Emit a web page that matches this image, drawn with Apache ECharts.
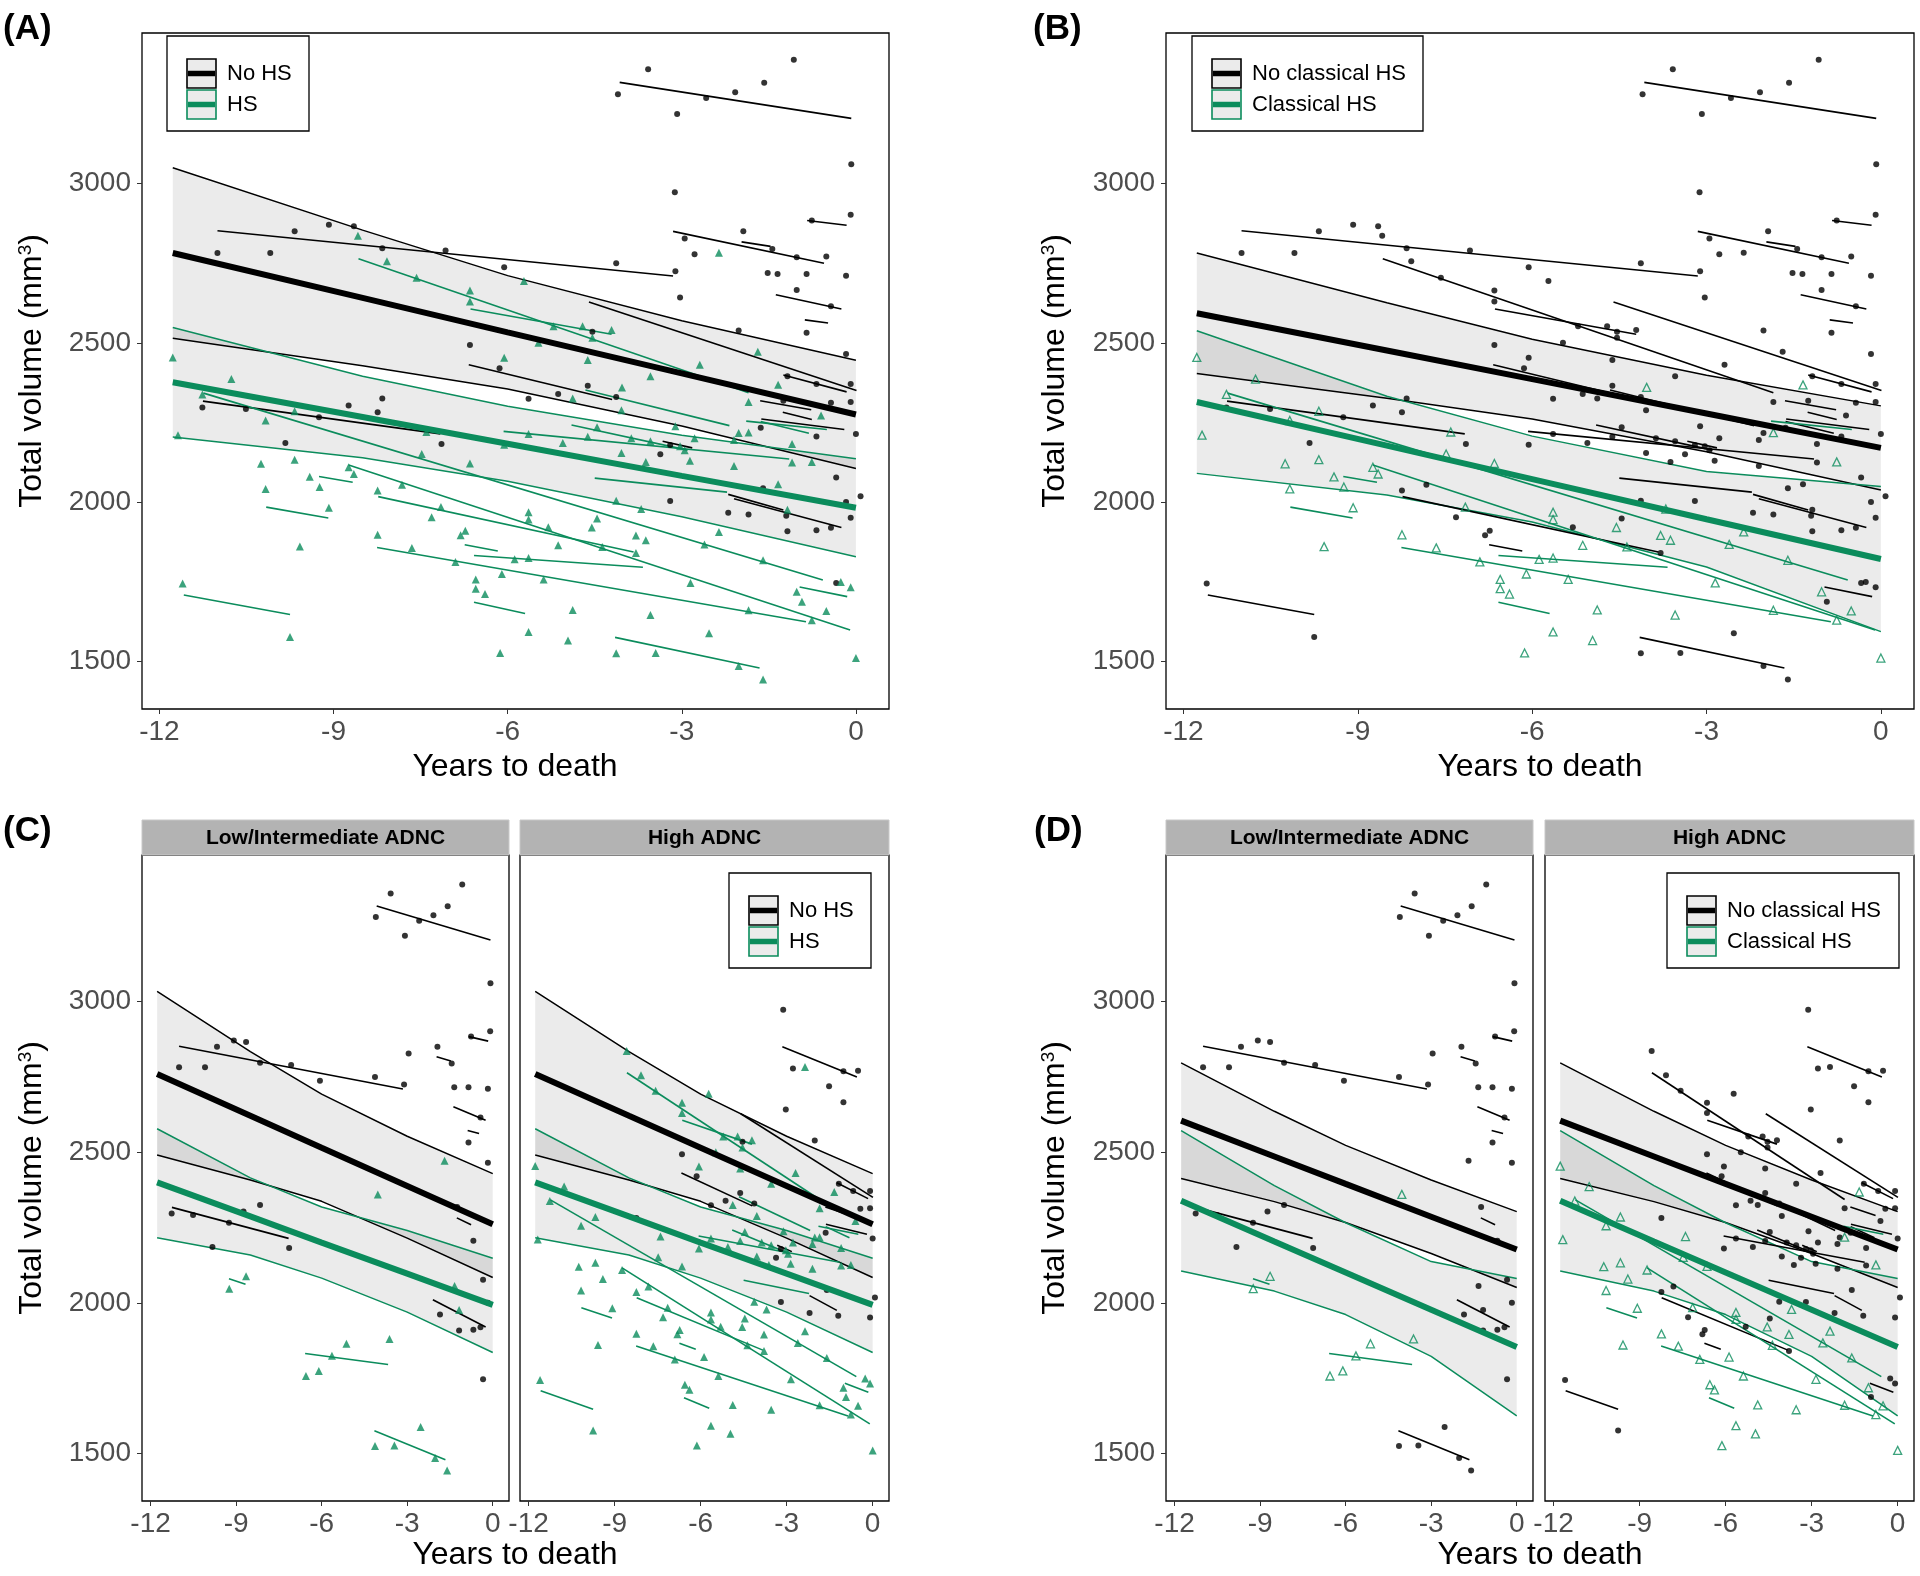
<!DOCTYPE html>
<html>
<head>
<meta charset="utf-8">
<script src="https://cdn.jsdelivr.net/npm/echarts@6/dist/echarts.min.js"></script>
<style>
  html, body { margin: 0; background: #fff; }
  #chart { width: 1920px; height: 1576px; }
</style>
</head>
<body>
<div id="chart"></div>
<script>
// ---- data ----
const xTicks = [-12, -9, -6, -3, 0]
const yTicks = [1500, 2000, 2500, 3000]

// points: [years to death, volume, high ADNC (1) or low/intermediate (0)]
const noHsPoints = [
  [-4.1, 3281, 0], [-3.58, 3359, 0], [-3.08, 3219, 0], [-2.58, 3269, 0], [-2.08, 3287, 0], [-1.58, 3317, 0],
  [-1.07, 3389, 0], [-0.08, 3061, 0], [-3.12, 2973, 1], [-0.09, 2902, 0], [-0.76, 2884, 0], [-9.67, 2850, 0],
  [-9.08, 2871, 0], [-8.65, 2866, 0], [-11.0, 2782, 0], [-10.09, 2782, 0], [-8.16, 2797, 0], [-7.07, 2790, 0],
  [-1.94, 2850, 0], [-2.95, 2828, 0], [-2.78, 2778, 1], [-1.44, 2795, 0], [-1.02, 2769, 1], [-0.51, 2771, 1],
  [-6.06, 2737, 0], [-4.13, 2750, 0], [-3.11, 2725, 0], [-1.52, 2719, 1], [-1.35, 2716, 0], [-0.85, 2716, 0],
  [-0.17, 2711, 0], [-1.02, 2666, 1], [-3.03, 2642, 1], [-0.43, 2615, 0], [-4.54, 2535, 1], [-2.02, 2539, 1],
  [-0.85, 2532, 0], [-6.65, 2493, 1], [-6.14, 2420, 1], [-0.17, 2465, 0], [-1.18, 2395, 1], [-0.68, 2371, 1],
  [-0.09, 2371, 1], [-4.62, 2365, 1], [-4.13, 2330, 1], [-5.13, 2339, 1], [-5.64, 2324, 1], [-8.16, 2325, 0],
  [-1.25, 2318, 0], [-0.09, 2314, 1], [-0.43, 2312, 1], [-11.26, 2297, 0], [-10.51, 2292, 0], [-8.74, 2303, 0],
  [-8.24, 2282, 1], [-9.25, 2266, 0], [0.0, 2214, 1], [-0.68, 2206, 0], [-1.64, 2233, 1], [-3.2, 2179, 1],
  [-7.14, 2182, 0], [-9.83, 2185, 0], [-3.37, 2150, 1], [-0.34, 2077, 0], [-1.6, 2043, 1], [0.08, 2018, 1],
  [-0.17, 2000, 0], [-3.2, 2003, 1], [-1.2, 1957, 1], [-2.2, 1966, 1], [-1.85, 1961, 0], [-0.09, 1951, 1],
  [-0.43, 1919, 0], [-1.18, 1908, 0], [-0.68, 1911, 0], [-0.34, 1746, 0]
]
const hsOtherPoints = [
  [-8.58, 2836, 1], [-2.36, 2783, 1], [-8.08, 2756, 1], [-5.72, 2694, 1], [-7.57, 2704, 1], [-6.65, 2664, 1],
  [-6.65, 2630, 1], [-4.71, 2552, 1], [-4.21, 2540, 1], [-5.21, 2552, 1], [-4.54, 2516, 1], [-5.47, 2500, 1],
  [-6.06, 2453, 1], [-4.62, 2446, 1], [-1.69, 2472, 0], [-2.69, 2431, 1], [-3.54, 2395, 1], [-4.88, 2325, 1],
  [-1.85, 2314, 1], [-4.04, 2288, 1], [-0.6, 2272, 1], [-3.11, 2238, 1], [-4.46, 2235, 1], [-2.78, 2200, 1],
  [-2.02, 2217, 1], [-5.64, 2214, 1], [-4.62, 2205, 1], [-3.87, 2200, 1], [-3.54, 2191, 1], [-3.03, 2175, 1],
  [-2.95, 2163, 1], [-5.05, 2185, 1], [-6.06, 2180, 1], [-2.1, 2195, 1], [-1.1, 2182, 1], [-4.04, 2154, 1],
  [-3.62, 2126, 1], [-2.86, 2130, 1], [-2.1, 2113, 1], [-1.1, 2124, 1], [-1.34, 2056, 0], [-8.24, 2036, 1],
  [-7.82, 2054, 1], [-4.13, 2004, 1], [-1.18, 1976, 0], [-7.31, 1952, 1], [-4.46, 1948, 1], [-5.3, 1921, 1],
  [-6.73, 1910, 1], [-6.81, 1896, 1], [-3.79, 1840, 1], [-0.26, 1749, 1], [-0.09, 1732, 1], [-0.93, 1687, 1],
  [-11.6, 1744, 1], [-9.75, 1576, 1], [-2.53, 1588, 0], [-4.13, 1525, 0], [-3.45, 1526, 0], [-2.02, 1485, 0],
  [-1.6, 1443, 0]
]
const hsClassicalPoints = [
  [-11.77, 2454, 1], [-10.76, 2386, 1], [-11.26, 2338, 1], [-9.67, 2285, 1], [-10.17, 2256, 1], [-11.68, 2210, 1],
  [-7.4, 2220, 1], [-7.48, 2151, 1], [-6.65, 2121, 1], [-8.74, 2109, 1], [-8.65, 2088, 0], [-10.25, 2120, 1],
  [-9.67, 2133, 1], [-9.41, 2079, 1], [-9.24, 2047, 0], [-10.17, 2041, 1], [-9.08, 1982, 1], [-9.58, 1860, 1],
  [-8.24, 1897, 1], [-7.65, 1856, 1], [-7.15, 1984, 1], [-6.9, 1812, 1], [-6.55, 1757, 0], [-6.55, 1728, 1],
  [-6.39, 1711, 1], [-5.88, 1820, 1], [-5.64, 1824, 0], [-5.38, 1757, 1], [-5.64, 1968, 1], [-5.64, 1945, 1],
  [-5.13, 1864, 0], [-4.55, 1920, 1], [-4.37, 1859, 1], [-3.79, 1895, 1], [-3.62, 1880, 0], [-2.36, 1906, 1],
  [-2.61, 1867, 1], [-1.6, 1817, 1], [-2.85, 1746, 1], [-1.85, 1660, 1], [-1.02, 1718, 1], [-0.51, 1658, 1],
  [-0.76, 1629, 1], [-4.88, 1661, 1], [-3.54, 1645, 1], [-5.64, 1592, 1], [-4.96, 1565, 1], [-6.13, 1526, 1],
  [0.0, 1510, 1], [-4.03, 2360, 0], [-1.34, 2368, 1], [-1.85, 2218, 1], [-0.76, 2126, 1], [-3.7, 1978, 1],
  [-6.1, 1774, 0]
]

// individual trajectories: [t start, volume start, t end, volume end, high ADNC]
const noHsLines = [
  [-4.07, 3318, -0.08, 3205, 0], [-11.0, 2852, -3.15, 2710, 0], [-3.15, 2850, -0.55, 2750, 1],
  [-1.97, 2817, -1.47, 2803, 0], [-0.84, 2884, -0.16, 2869, 0], [-1.38, 2651, -0.25, 2606, 0],
  [-0.88, 2572, -0.48, 2562, 0], [-11.25, 2317, -7.16, 2214, 0], [-1.26, 2282, -0.76, 2259, 0],
  [-2.1, 2010, -0.25, 1920, 0], [-4.6, 2628, 0.01, 2350, 1], [-1.25, 2399, -0.16, 2346, 1],
  [-1.65, 2318, -0.77, 2290, 1], [-1.63, 2261, -0.2, 2228, 1], [-3.33, 2191, -2.82, 2170, 1],
  [-6.67, 2431, -4.2, 2322, 1], [-2.2, 2024, -1.25, 1975, 1]
]
const hsOtherLines = [
  [-8.57, 2764, -1.85, 2343, 1], [-6.64, 2606, -4.21, 2527, 1], [-6.07, 2222, -1.15, 2135, 1],
  [-4.5, 2075, -2.22, 2031, 1], [-4.9, 2242, -2.9, 2163, 1], [-1.64, 2253, -0.81, 2216, 1],
  [-4.66, 2352, -2.18, 2240, 1], [-8.23, 2017, -3.83, 1843, 1], [-6.74, 1866, -6.17, 1846, 1],
  [-11.58, 1708, -9.75, 1647, 1], [-0.97, 1733, -0.15, 1703, 1], [-4.15, 1575, -1.66, 1479, 0]
]
const hsClassicalLines = [
  [-11.24, 2342, -0.57, 1755, 1], [-8.74, 2116, -0.1, 1598, 1], [-8.25, 1857, -0.86, 1624, 1],
  [-6.58, 1832, -3.67, 1795, 0], [-6.58, 1685, -5.7, 1650, 1], [-10.16, 1984, -9.09, 1950, 1],
  [-9.25, 2080, -8.67, 2062, 0], [-1.89, 2254, -0.5, 2228, 1]
]

// model fits and 95% bands, read at these times
const bandT = [-11.77, -8.5, -6, -3, 0]
const aNoHsFit = [2782, 2641, 2533, 2404, 2275]
const aNoHsUpper = [3050, 2854, 2711, 2569, 2445]
const aNoHsLower = [2514, 2428, 2355, 2239, 2105]
const aHsFit = [2376, 2267, 2183, 2082, 1982]
const aHsUpper = [2548, 2395, 2301, 2210, 2136]
const aHsLower = [2204, 2139, 2065, 1954, 1828]

const bNoFit = [2593, 2476, 2386, 2278, 2170]
const bNoUpper = [2782, 2626, 2511, 2398, 2302]
const bNoLower = [2404, 2326, 2261, 2158, 2038]
const bClFit = [2314, 2177, 2072, 1946, 1821]
const bClUpper = [2538, 2332, 2207, 2096, 2049]
const bClLower = [2090, 2022, 1937, 1796, 1593]

const cNoHsFit = [2760, 2621, 2515, 2388, 2261]
const cNoHsUpper = [3034, 2834, 2693, 2553, 2429]
const cNoHsLower = [2491, 2408, 2337, 2215, 2084]
const cHsFit = [2400, 2287, 2200, 2097, 1993]
const cHsUpper = [2578, 2415, 2318, 2240, 2148]
const cHsLower = [2216, 2159, 2082, 1969, 1835]

const dNoFit = [2605, 2486, 2395, 2286, 2177]
const dNoUpper = [2797, 2636, 2523, 2408, 2303]
const dNoLower = [2413, 2336, 2267, 2164, 2051]
const dClFit = [2339, 2204, 2101, 1977, 1853]
const dClUpper = [2572, 2389, 2266, 2137, 2081]
const dClLower = [2106, 2039, 1961, 1822, 1625]

// ---- drawing ----
const GREEN = '#0b8c5c'
const FONT = '"Liberation Sans", Arial, sans-serif'
const BAND = 'rgba(0,0,0,0.078)'

const panels = [
  { mode: 'hs', facet: null, grid: { left: 142, top: 33, width: 747, height: 676 }, y: [1350, 3473], yLabels: true,
    band: [aNoHsFit, aNoHsUpper, aNoHsLower, aHsFit, aHsUpper, aHsLower] },
  { mode: 'cl', facet: null, grid: { left: 1166, top: 33, width: 748, height: 676 }, y: [1350, 3473], yLabels: true,
    band: [bNoFit, bNoUpper, bNoLower, bClFit, bClUpper, bClLower] },
  { mode: 'hs', facet: 0, grid: { left: 142, top: 855, width: 367, height: 646 }, y: [1342, 3487], yLabels: true,
    band: [cNoHsFit, cNoHsUpper, cNoHsLower, cHsFit, cHsUpper, cHsLower] },
  { mode: 'hs', facet: 1, grid: { left: 520, top: 855, width: 369, height: 646 }, y: [1342, 3487], yLabels: false,
    band: [cNoHsFit, cNoHsUpper, cNoHsLower, cHsFit, cHsUpper, cHsLower] },
  { mode: 'cl', facet: 0, grid: { left: 1166, top: 855, width: 367, height: 646 }, y: [1342, 3487], yLabels: true,
    band: [dNoFit, dNoUpper, dNoLower, dClFit, dClUpper, dClLower] },
  { mode: 'cl', facet: 1, grid: { left: 1545, top: 855, width: 369, height: 646 }, y: [1342, 3487], yLabels: false,
    band: [dNoFit, dNoUpper, dNoLower, dClFit, dClUpper, dClLower] }
]

const pick = (rows, facet) => facet === null ? rows : rows.filter(r => r[r.length - 1] === facet)

// grey ribbon (filled polygon) plus its two edge lines
function bandSeries (g, lower, upper, color) {
  const edge = vals => ({
    type: 'line', xAxisIndex: g, yAxisIndex: g, symbol: 'none', z: 2, silent: true,
    lineStyle: { color: color, width: 1.5 },
    data: bandT.map((t, k) => [t, vals[k]])
  })
  const fill = {
    type: 'custom', xAxisIndex: g, yAxisIndex: g, z: 1, silent: true,
    data: [[bandT[0], lower[0]]],
    renderItem: (params, api) => {
      const top = bandT.map((t, k) => api.coord([t, upper[k]]))
      const bottom = bandT.map((t, k) => api.coord([t, lower[k]])).reverse()
      return { type: 'polygon', shape: { points: top.concat(bottom) }, style: { fill: BAND } }
    }
  }
  return [fill, edge(lower), edge(upper)]
}

function segmentSeries (g, rows, color) {
  return {
    type: 'custom', xAxisIndex: g, yAxisIndex: g, z: 3, silent: true,
    data: rows.map(r => r.slice(0, 4)),
    encode: { x: [0, 2], y: [1, 3] },
    renderItem: (params, api) => {
      const a = api.coord([api.value(0), api.value(1)])
      const b = api.coord([api.value(2), api.value(3)])
      return { type: 'line', shape: { x1: a[0], y1: a[1], x2: b[0], y2: b[1] }, style: { stroke: color, lineWidth: 1.6 } }
    }
  }
}

function pointSeries (g, rows, symbol, size, itemStyle) {
  return {
    type: 'scatter', xAxisIndex: g, yAxisIndex: g, z: 4, silent: true,
    symbol: symbol, symbolSize: size, itemStyle: itemStyle,
    data: rows.map(r => [r[0], r[1]])
  }
}

function fitSeries (g, fit, color) {
  return {
    type: 'line', xAxisIndex: g, yAxisIndex: g, z: 6, silent: true, symbol: 'none',
    lineStyle: { color: color, width: 6 },
    data: bandT.map((t, k) => [t, fit[k]])
  }
}

const grids = []
const xAxes = []
const yAxes = []
let series = []
const plain = v => String(v)

panels.forEach((p, g) => {
  grids.push(Object.assign({ show: true, borderColor: '#000', borderWidth: 1.3, backgroundColor: 'transparent' }, p.grid))
  xAxes.push({
    type: 'value', gridIndex: g, min: -12.3, max: 0.57, position: 'bottom',
    axisLine: { show: false, onZero: false }, splitLine: { show: false },
    axisTick: { show: true, length: 5, lineStyle: { color: '#333' }, customValues: xTicks },
    axisLabel: { customValues: xTicks, formatter: plain, fontSize: 28, color: '#4d4d4d', margin: 9, fontFamily: FONT }
  })
  yAxes.push({
    type: 'value', gridIndex: g, min: p.y[0], max: p.y[1], position: 'left',
    axisLine: { show: false, onZero: false }, splitLine: { show: false },
    axisTick: { show: p.yLabels, length: 5, lineStyle: { color: '#333' }, customValues: yTicks },
    axisLabel: { show: p.yLabels, customValues: yTicks, formatter: plain, fontSize: 28, color: '#4d4d4d', margin: 11, fontFamily: FONT }
  })

  const b = p.band
  series = series.concat(bandSeries(g, b[2], b[1], '#000'))
  series = series.concat(bandSeries(g, b[5], b[4], GREEN))

  const noHs = pick(noHsPoints, p.facet)
  const other = pick(hsOtherPoints, p.facet)
  const classical = pick(hsClassicalPoints, p.facet)
  const lNo = pick(noHsLines, p.facet)
  const lOther = pick(hsOtherLines, p.facet)
  const lCl = pick(hsClassicalLines, p.facet)

  if (p.mode === 'hs') {
    series.push(segmentSeries(g, lNo, '#000'))
    series.push(segmentSeries(g, lOther.concat(lCl), GREEN))
    series.push(pointSeries(g, noHs, 'circle', 6, { color: '#000' }))
    series.push(pointSeries(g, other.concat(classical), 'triangle', 8, { color: GREEN }))
  } else {
    series.push(segmentSeries(g, lNo.concat(lOther), '#000'))
    series.push(segmentSeries(g, lCl, GREEN))
    series.push(pointSeries(g, noHs.concat(other), 'circle', 6, { color: '#000' }))
    series.push(pointSeries(g, classical, 'triangle', 8, { color: 'rgba(255,255,255,0)', borderColor: GREEN, borderWidth: 1.3 }))
  }
  series.push(fitSeries(g, b[0], '#000'))
  series.push(fitSeries(g, b[3], GREEN))
})

// ---- text, strips, legends ----
const graphic = []
function text (x, y, str, opts) {
  graphic.push({
    type: 'text', x: x, y: y, rotation: opts.rotation || 0, silent: true,
    style: Object.assign({ text: str, fill: '#000', fontFamily: FONT, textAlign: 'center', textVerticalAlign: 'middle' }, opts.style)
  })
}
const yTitle = { fontSize: 32, rich: { sup: { fontSize: 19, verticalAlign: 'top', fontFamily: FONT } } }

text(3, 29, '(A)', { style: { fontSize: 35, fontWeight: 'bold', textAlign: 'left' } })
text(1033, 29, '(B)', { style: { fontSize: 35, fontWeight: 'bold', textAlign: 'left' } })
text(3, 831, '(C)', { style: { fontSize: 35, fontWeight: 'bold', textAlign: 'left' } })
text(1034, 831, '(D)', { style: { fontSize: 35, fontWeight: 'bold', textAlign: 'left' } })

;[[515, 767], [1540, 767], [515, 1555], [1540, 1555]].forEach(c => text(c[0], c[1], 'Years to death', { style: { fontSize: 32 } }))
;[[32, 371], [1055, 371], [32, 1178], [1055, 1178]].forEach(c =>
  text(c[0], c[1], 'Total volume (mm{sup|3})', { rotation: Math.PI / 2, style: yTitle }))

const strips = [[142, 367, 'Low/Intermediate ADNC'], [520, 369, 'High ADNC'], [1166, 367, 'Low/Intermediate ADNC'], [1545, 369, 'High ADNC']]
strips.forEach(s => {
  graphic.push({ type: 'rect', silent: true, shape: { x: s[0], y: 820, width: s[1], height: 35 }, style: { fill: '#b3b3b3', stroke: '#c8c8c8', lineWidth: 1 } })
  text(s[0] + s[1] / 2, 838, s[2], { style: { fontSize: 21, fontWeight: 'bold' } })
})

function legend (x, y, w, labels) {
  graphic.push({ type: 'rect', silent: true, shape: { x: x, y: y, width: w, height: 95 }, style: { fill: '#fff', stroke: '#000', lineWidth: 1.3 } })
  ;[['#000', 0], [GREEN, 1]].forEach(([c, i]) => {
    const ky = y + 23 + i * 31
    graphic.push({ type: 'rect', silent: true, shape: { x: x + 20, y: ky, width: 29, height: 29 }, style: { fill: '#ebebeb', stroke: c, lineWidth: 1.6 } })
    graphic.push({ type: 'line', silent: true, shape: { x1: x + 21, y1: ky + 14.5, x2: x + 48, y2: ky + 14.5 }, style: { stroke: c, lineWidth: 5.5 } })
    text(x + 60, ky + 15, labels[i], { style: { fontSize: 22, textAlign: 'left' } })
  })
}
legend(167, 36, 142, ['No HS', 'HS'])
legend(1192, 36, 231, ['No classical HS', 'Classical HS'])
legend(729, 873, 142, ['No HS', 'HS'])
legend(1667, 873, 232, ['No classical HS', 'Classical HS'])

const chart = echarts.init(document.getElementById('chart'))
chart.setOption({
  animation: false,
  backgroundColor: '#fff',
  grid: grids,
  xAxis: xAxes,
  yAxis: yAxes,
  series: series,
  graphic: graphic
})
</script>
</body>
</html>
